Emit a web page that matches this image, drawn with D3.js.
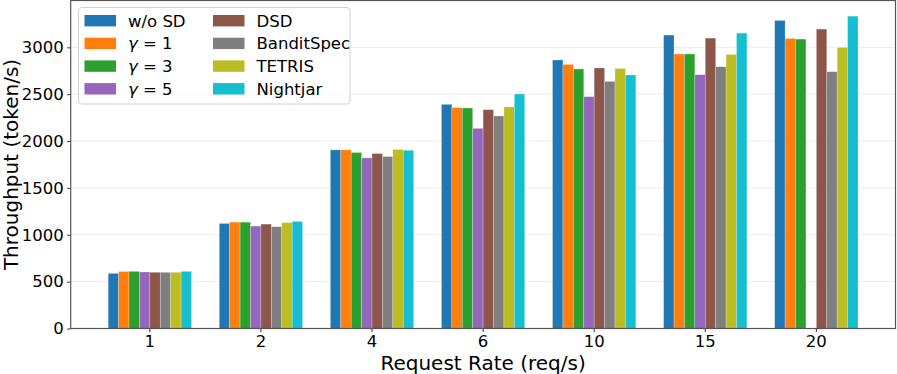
<!DOCTYPE html>
<html>
<head>
<meta charset="utf-8">
<script src="https://cdn.jsdelivr.net/npm/d3@7"></script>
<style>
  body { margin: 0; background: #fff; }
  svg { display: block; font-family: "DejaVu Sans", sans-serif; }
</style>
</head>
<body>
<div id="chart"></div>
<script>
// request rates (x groups)
var rates = ["1", "2", "4", "6", "10", "15", "20"];

// methods, in legend/bar order
var methods = ["w/o SD", "γ=1", "γ=3", "γ=5", "DSD", "BanditSpec", "TETRIS", "Nightjar"];
var colors = ["#1f77b4", "#ff7f0e", "#2ca02c", "#9467bd", "#8c564b", "#7f7f7f", "#bcbd22", "#17becf"];

// throughput (token/s) per method, one value per rate
var woSD       = [588, 1121, 1906, 2392, 2865, 3131, 3287];
var gamma1     = [608, 1135, 1906, 2357, 2818, 2929, 3095];
var gamma3     = [610, 1135, 1878, 2353, 2769, 2929, 3088];
var gamma5     = [603, 1093, 1821, 2136, 2474, 2708, null];
var dsd        = [600, 1114, 1867, 2335, 2780, 3099, 3195];
var banditSpec = [600, 1086, 1835, 2268, 2637, 2793, 2740];
var tetris     = [600, 1129, 1910, 2364, 2775, 2924, 2999];
var nightjar   = [610, 1143, 1902, 2502, 2705, 3152, 3333];

var yTicks = [0, 500, 1000, 1500, 2000, 2500, 3000];

var series = [woSD, gamma1, gamma3, gamma5, dsd, banditSpec, tetris, nightjar];

var W = 897, H = 374;
var margin = {top: 0.5, right: 1.5, bottom: 45.5, left: 70.7};
var width = W - margin.left - margin.right,
    height = H - margin.top - margin.bottom;

var svg = d3.select("#chart")
  .append("svg")
    .attr("width", W)
    .attr("height", H);

var g = svg.append("g")
    .attr("transform", "translate(" + margin.left + "," + margin.top + ")");

// X scales
var x0 = d3.scaleBand()
    .domain(rates)
    .range([0, width])
    .paddingInner(0.25)
    .paddingOuter(0.3375);

var x1 = d3.scaleBand()
    .domain(methods)
    .range([0, x0.bandwidth()]);

// Y scale
var y = d3.scaleLinear()
    .domain([0, 3500])
    .range([height, 0]);

// grid
g.append("g")
  .selectAll("line")
  .data(yTicks)
  .enter()
  .append("line")
    .attr("x1", 0)
    .attr("x2", width)
    .attr("y1", function(d) { return y(d); })
    .attr("y2", function(d) { return y(d); })
    .attr("stroke", "#b0b0b0")
    .attr("stroke-opacity", 0.3)
    .attr("stroke-width", 0.8);

// bars
var bars = [];
series.forEach(function(vals, si) {
  vals.forEach(function(v, ri) {
    if (v != null) bars.push({rate: rates[ri], method: methods[si], value: v, color: colors[si]});
  });
});

g.append("g")
  .selectAll("rect")
  .data(bars)
  .enter()
  .append("rect")
    .attr("x", function(d) { return x0(d.rate) + x1(d.method); })
    .attr("y", function(d) { return y(d.value); })
    .attr("width", x1.bandwidth())
    .attr("height", function(d) { return height - y(d.value); })
    .attr("fill", function(d) { return d.color; })
    .attr("stroke", "#ffffff")
    .attr("stroke-opacity", 0.4)
    .attr("stroke-width", 0.6);

// axes
var xAxis = g.append("g")
    .attr("transform", "translate(0," + height + ")")
    .call(d3.axisBottom(x0).tickSizeOuter(0).tickSize(3.5).tickPadding(3.5));

var yAxis = g.append("g")
    .call(d3.axisLeft(y).tickValues(yTicks).tickFormat(d3.format("d"))
      .tickSizeOuter(0).tickSize(3.5).tickPadding(3.5));

[xAxis, yAxis].forEach(function(a) {
  a.select(".domain").remove();
  a.selectAll("line").attr("stroke", "#333");
  a.selectAll("text")
    .attr("fill", "#000")
    .style("font-family", "DejaVu Sans")
    .style("font-size", "16.5px");
});

// frame
g.append("rect")
    .attr("x", 0)
    .attr("y", 0)
    .attr("width", width)
    .attr("height", height)
    .attr("fill", "none")
    .attr("stroke", "#555")
    .attr("stroke-width", 1.2);

// axis labels
svg.append("text")
    .attr("x", margin.left + width / 2)
    .attr("y", 370)
    .attr("text-anchor", "middle")
    .style("font-size", "20px")
    .text("Request Rate (req/s)");

svg.append("text")
    .attr("transform", "translate(17.5," + (margin.top + height / 2) + ") rotate(-90)")
    .attr("text-anchor", "middle")
    .style("font-size", "20px")
    .text("Throughput (token/s)");

// legend
var legend = svg.append("g")
    .attr("transform", "translate(78.5,7.5)");

legend.append("rect")
    .attr("width", 271.5)
    .attr("height", 96.5)
    .attr("rx", 3)
    .attr("fill", "#fff")
    .attr("fill-opacity", 0.8)
    .attr("stroke", "#d0d0d0")
    .attr("stroke-width", 1);

methods.forEach(function(m, i) {
  var col = Math.floor(i / 4), row = i % 4;
  var item = legend.append("g")
      .attr("transform", "translate(" + (6 + col * 128.5) + "," + (13.2 + row * 22.7) + ")");
  item.append("rect")
      .attr("x", 0)
      .attr("y", -5.7)
      .attr("width", 31.5)
      .attr("height", 11.4)
      .attr("fill", colors[i]);
  var t = item.append("text")
      .attr("x", 43.5)
      .attr("y", 6)
      .style("font-size", "16.5px");
  if (m.indexOf("γ=") === 0) {
    t.append("tspan").style("font-style", "italic").text("γ");
    t.append("tspan").text(" = " + m.slice(2));
  } else {
    t.text(m);
  }
});
</script>
</body>
</html>
